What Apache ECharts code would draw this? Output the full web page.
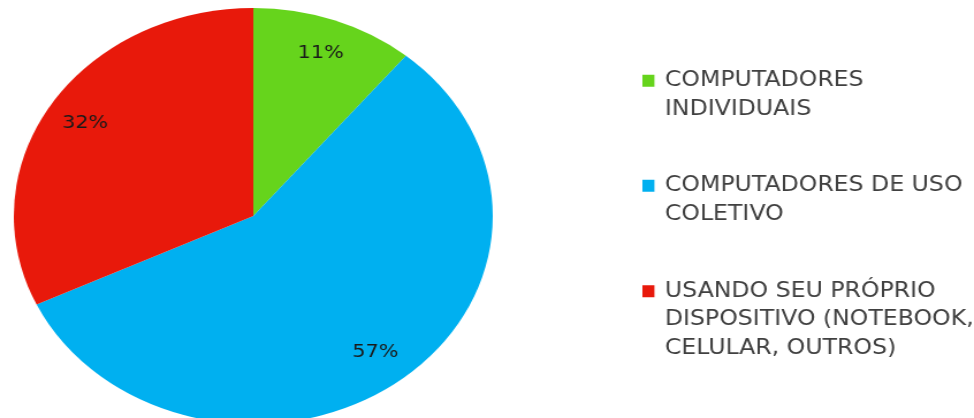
<!DOCTYPE html>
<html>
<head>
<meta charset="utf-8">
<script src="https://cdn.jsdelivr.net/npm/echarts@6/dist/echarts.min.js"></script>
<style>
  html, body { margin: 0; padding: 0; background: #ffffff; overflow: hidden; }
  #wrap { width: 974px; height: 418px; overflow: hidden; }
  /* the chart is drawn on a narrower canvas and widened horizontally */
  #chart { width: 846px; height: 418px; transform: scaleX(1.1513); transform-origin: 0 0; }
</style>
</head>
<body>
<div id="wrap"><div id="chart"></div></div>
<script>
const categories = [
  'COMPUTADORES\nINDIVIDUAIS',
  'COMPUTADORES DE USO\nCOLETIVO',
  'USANDO SEU PRÓPRIO\nDISPOSITIVO (NOTEBOOK,\nCELULAR, OUTROS)'
];
const values = [11, 57, 32];
const colors = ['#66d41c', '#00b0f0', '#e8190b'];

const LINE = 28.5;
const FONT = 'DejaVu Sans';

const seriesData = categories.map((name, i) => ({
  name: name,
  value: values[i],
  itemStyle: { color: colors[i] }
}));

// square swatch plus an empty point that widens the gap before the text
const SWATCH = 'path://M0,0H10.4V12H0Z M14.5,0L14.5,0';

// one legend block per category; leading blank lines keep the swatch
// level with the first line of a multi-line name
const legendTops = [38, 143, 220];
const legends = categories.map((name, i) => ({
  orient: 'vertical',
  left: 558,
  top: legendTops[i],
  padding: 0,
  itemWidth: 14.5,
  itemHeight: 12,
  itemGap: 0,
  symbolKeepAspect: false,
  itemStyle: { borderWidth: 0 },
  icon: SWATCH,
  selectedMode: false,
  data: [name],
  formatter: function (n) {
    return '\n'.repeat(n.split('\n').length - 1) + n;
  },
  textStyle: {
    fontFamily: FONT,
    fontSize: 20.5,
    color: '#404040',
    lineHeight: LINE
  }
}));

const chart = echarts.init(document.getElementById('chart'), null, { renderer: 'canvas' });
chart.setOption({
  backgroundColor: '#ffffff',
  animation: false,
  legend: legends,
  series: [
    {
      type: 'pie',
      center: [220, 216],
      radius: 208,
      startAngle: 90,
      clockwise: true,
      silent: true,
      itemStyle: { borderWidth: 0 },
      label: { show: false },
      labelLine: { show: false },
      data: seriesData
    },
    {
      // transparent ring that carries the percentage labels
      type: 'pie',
      center: [220, 216],
      radius: [150, 190],
      startAngle: 90,
      clockwise: true,
      silent: true,
      legendHoverLink: false,
      itemStyle: { color: 'rgba(0,0,0,0)', borderWidth: 0 },
      label: {
        show: true,
        position: 'inside',
        formatter: '{d}%',
        fontFamily: FONT,
        fontSize: 18,
        color: '#1a1a1a'
      },
      labelLine: { show: false },
      data: categories.map((name, i) => ({ name: name, value: values[i] }))
    }
  ]
});
</script>
</body>
</html>
